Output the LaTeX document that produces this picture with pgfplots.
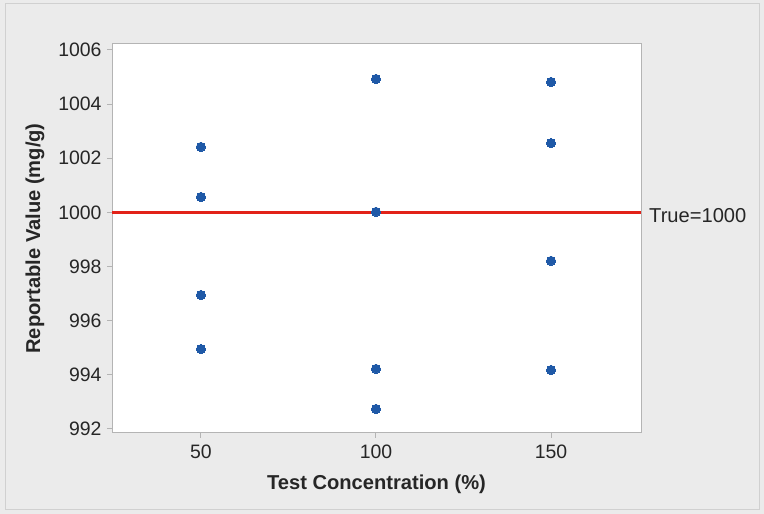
\documentclass[border=0pt]{standalone}
\usepackage{fontspec}
\setmainfont{Liberation Sans}
\usepackage{pgfplots}
\pgfplotsset{compat=1.18}

\definecolor{bgray}{RGB}{235,235,235}
\definecolor{frame}{RGB}{208,208,208}
\definecolor{axgray}{RGB}{180,180,180}
\definecolor{dotblue}{RGB}{31,89,167}
\definecolor{truered}{RGB}{226,34,24}

\newcommand{\lbl}{\fontsize{19.5}{23}\selectfont}
\newcommand{\lblbig}{\fontsize{20.2}{24}\selectfont}

\begin{document}
\begin{tikzpicture}
% page background and frame
\fill[bgray] (0,0) rectangle (764bp,514bp);
\draw[frame, line width=1bp] (5bp,4bp) rectangle (759bp,510bp);

\begin{axis}[
    at={(112bp,81bp)}, anchor=south west,
    scale only axis,
    width=529bp, height=389bp,
    xmin=24.6, xmax=175.7,
    ymin=991.85, ymax=1006.22,
    xtick={50,100,150},
    ytick={992,994,...,1006},
    axis background/.style={fill=white},
    axis line style={axgray, line width=1bp},
    tick style={axgray, line width=1bp},
    tick align=outside,
    major tick length=5bp,
    axis x line*=bottom,
    axis y line*=left,
    every outer x axis line/.append style={-},
    every outer y axis line/.append style={-},
    /pgf/number format/assume math mode=true,
    /pgf/number format/1000 sep={},
    tick label style={font=\lbl, text=black!85},
    xticklabel style={yshift=-3bp},
    yticklabel style={xshift=-2bp},
    xlabel={\textbf{Test Concentration (\%)}},
    ylabel={\textbf{Reportable Value (mg/g)}},
    label style={font=\lblbig, text=black!85},
    xlabel style={at={(axis description cs:0.5,-0.131)}, anchor=center},
    ylabel style={at={(axis description cs:-0.1456,0.5)}, anchor=center},
    clip=false,
]
% right and top frame of the plot area
\draw[axgray, line width=1bp] (rel axis cs:0,1) -- (rel axis cs:1,1) -- (rel axis cs:1,0);

\addplot[truered, line width=2.4bp] coordinates {(24.6,1000) (175.7,1000)};

\addplot[only marks, mark=*, mark size=4.6bp, mark options={fill=dotblue, draw=dotblue, line width=0pt}]
  coordinates {
    (50,1002.42) (50,1000.57) (50,996.95) (50,994.95)
    (100,1004.93) (100,1000.02) (100,994.22) (100,992.74)
    (150,1004.82) (150,1002.56) (150,998.21) (150,994.18)
  };

\node[anchor=west, font=\lblbig, text=black!85, inner sep=0pt, xshift=8bp, yshift=-3bp]
  at (axis cs:175.7,1000) {True=1000};
\end{axis}
\end{tikzpicture}
\end{document}
